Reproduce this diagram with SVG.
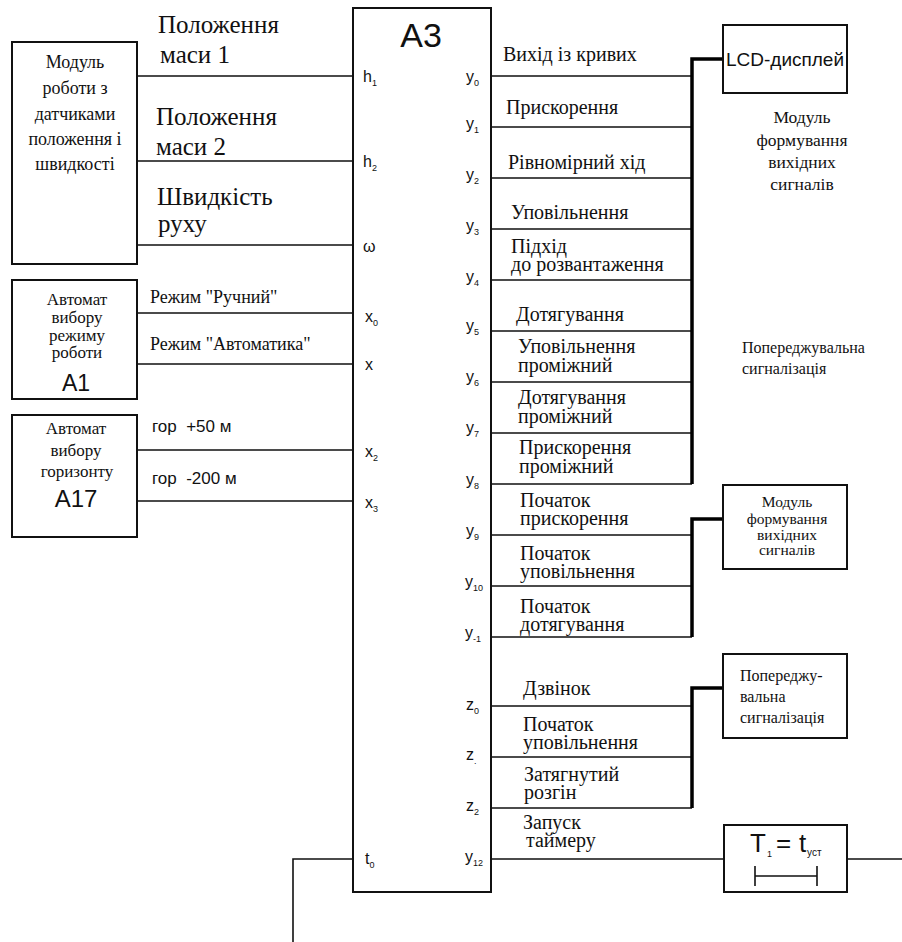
<svg xmlns="http://www.w3.org/2000/svg" width="902" height="942" viewBox="0 0 902 942">
<style>
.bg{fill:#fff}
.box{fill:none;stroke:#111;stroke-width:2}
.ln{fill:none;stroke:#111;stroke-width:1.6}
.bus{fill:none;stroke:#000;stroke-width:3.5}
.s{font-family:"Liberation Serif","DejaVu Serif","Times New Roman",serif;fill:#111}
.a{font-family:"Liberation Sans",Arial,sans-serif;fill:#111}
.c{text-anchor:middle}
.lbl{font-size:20px}
.big{font-size:25px}
.pin{font-size:16px}
.sub{font-size:9px}
</style>
<rect class="bg" x="0" y="0" width="902" height="942"/>

<g id="connectors">
  <path class="ln" d="M137,76H353M137,161H353M137,245H353M137,313H353M137,364H353M137,450H353M137,501H353"/>
  <path class="ln" d="M491,76H692M491,127H692M491,178H692M491,229H692M491,280H692M491,331H692M491,382H692M491,433H692M491,484H692"/>
  <path class="ln" d="M491,535H692M491,586H692M491,637H692"/>
  <path class="ln" d="M491,706H692M491,757H692M491,808H692"/>
  <path class="ln" d="M491,859H724M847,859H902M353,859H293V942"/>
  <path class="bus" d="M692,484V59H723"/>
  <path class="bus" d="M692,637V519H723"/>
  <path class="bus" d="M692,808V688H723"/>
</g>

<g id="sensors">
  <rect class="box" x="12" y="42" width="125" height="222"/>
  <text class="s c" font-size="18"><tspan x="75" y="68">Модуль</tspan><tspan x="75" y="94">роботи з</tspan><tspan x="75" y="120">датчиками</tspan><tspan x="75" y="145">положення і</tspan><tspan x="75" y="170">швидкості</tspan></text>
</g>
<g id="A1">
  <rect class="box" x="12" y="280" width="125" height="119"/>
  <text class="s c" font-size="17"><tspan x="77" y="305">Автомат</tspan><tspan x="77" y="323">вибору</tspan><tspan x="77" y="341">режиму</tspan><tspan x="77" y="358">роботи</tspan></text>
  <text class="a c" font-size="23" x="76" y="391">А1</text>
</g>
<g id="A17">
  <rect class="box" x="12" y="415" width="125" height="122"/>
  <text class="s c" font-size="17"><tspan x="76" y="434">Автомат</tspan><tspan x="76" y="456">вибору</tspan><tspan x="77" y="477">горизонту</tspan></text>
  <text class="a c" font-size="24" x="76" y="507">А17</text>
</g>

<g id="input-labels">
  <text class="s big"><tspan x="158" y="33">Положення</tspan><tspan x="160" y="63">маси 1</tspan></text>
  <text class="s big"><tspan x="156" y="125">Положення</tspan><tspan x="156" y="155">маси 2</tspan></text>
  <text class="s big"><tspan x="157" y="205">Швидкість</tspan><tspan x="158" y="232">руху</tspan></text>
  <text class="s" font-size="18" x="150" y="303">Режим "Ручний"</text>
  <text class="s" font-size="18" x="150" y="350">Режим "Автоматика"</text>
  <text class="a" font-size="17" x="152" y="432" xml:space="preserve">гор  +50 м</text>
  <text class="a" font-size="17" x="152" y="484" xml:space="preserve">гор  -200 м</text>
</g>

<g id="A3">
  <rect class="box" x="353" y="8" width="138" height="884"/>
  <text class="a c" font-size="34" x="421" y="47">A3</text>
  <g class="a pin">
    <text x="363" y="82">h<tspan class="sub" dy="4">1</tspan></text>
    <text x="363" y="167">h<tspan class="sub" dy="4">2</tspan></text>
    <text x="363" y="252">ω</text>
    <text x="365" y="322">x<tspan class="sub" dy="4">0</tspan></text>
    <text x="365" y="370">x</text>
    <text x="365" y="457">x<tspan class="sub" dy="4">2</tspan></text>
    <text x="365" y="508">x<tspan class="sub" dy="4">3</tspan></text>
    <text x="365" y="864">t<tspan class="sub" dy="4">0</tspan></text>
    <text x="466" y="82">y<tspan class="sub" dy="4">0</tspan></text>
    <text x="466" y="129">y<tspan class="sub" dy="4">1</tspan></text>
    <text x="466" y="180">y<tspan class="sub" dy="4">2</tspan></text>
    <text x="466" y="231">y<tspan class="sub" dy="4">3</tspan></text>
    <text x="466" y="282">y<tspan class="sub" dy="4">4</tspan></text>
    <text x="466" y="331">y<tspan class="sub" dy="4">5</tspan></text>
    <text x="466" y="382">y<tspan class="sub" dy="4">6</tspan></text>
    <text x="466" y="433">y<tspan class="sub" dy="4">7</tspan></text>
    <text x="466" y="485">y<tspan class="sub" dy="4">8</tspan></text>
    <text x="466" y="536">y<tspan class="sub" dy="4">9</tspan></text>
    <text x="465" y="587">y<tspan class="sub" dy="4">10</tspan></text>
    <text x="465" y="638">y<tspan class="sub" dy="4">-1</tspan></text>
    <text x="466" y="710">z<tspan class="sub" dy="4">0</tspan></text>
    <text x="466" y="760">z<tspan class="sub" dy="4">.</tspan></text>
    <text x="466" y="811">z<tspan class="sub" dy="4">2</tspan></text>
    <text x="465" y="862">y<tspan class="sub" dy="4">12</tspan></text>
  </g>
</g>

<g id="output-labels" class="s lbl">
  <text x="503" y="61">Вихід із кривих</text>
  <text x="506" y="114">Прискорення</text>
  <text x="508" y="169">Рівномірний хід</text>
  <text x="511" y="219">Уповільнення</text>
  <text><tspan x="511" y="253">Підхід</tspan><tspan x="511" y="271">до розвантаження</tspan></text>
  <text x="516" y="321">Дотягування</text>
  <text><tspan x="518" y="353">Уповільнення</tspan><tspan x="518" y="372">проміжний</tspan></text>
  <text><tspan x="518" y="404">Дотягування</tspan><tspan x="518" y="423">проміжний</tspan></text>
  <text><tspan x="519" y="454">Прискорення</tspan><tspan x="519" y="473">проміжний</tspan></text>
  <text><tspan x="520" y="507">Початок</tspan><tspan x="520" y="525">прискорення</tspan></text>
  <text><tspan x="520" y="560">Початок</tspan><tspan x="520" y="578">уповільнення</tspan></text>
  <text><tspan x="520" y="613">Початок</tspan><tspan x="520" y="631">дотягування</tspan></text>
  <text x="523" y="695">Дзвінок</text>
  <text><tspan x="523" y="731">Початок</tspan><tspan x="523" y="749">уповільнення</tspan></text>
  <text><tspan x="524" y="781">Затягнутий</tspan><tspan x="524" y="799">розгін</tspan></text>
  <text><tspan x="523" y="829">Запуск</tspan><tspan x="526" y="847">таймеру</tspan></text>
</g>

<g id="lcd">
  <rect class="box" x="723" y="25" width="124" height="68"/>
  <text class="a c" font-size="19" x="785" y="66">LCD-дисплей</text>
</g>
<g id="note-module">
  <text class="s c" font-size="17.5"><tspan x="802" y="123">Модуль</tspan><tspan x="802" y="146">формування</tspan><tspan x="802" y="168">вихідних</tspan><tspan x="802" y="190">сигналів</tspan></text>
</g>
<g id="note-warning">
  <text class="s" font-size="16"><tspan x="742" y="353">Попереджувальна</tspan><tspan x="742" y="374">сигналізація</tspan></text>
</g>
<g id="module-out">
  <rect class="box" x="723" y="485" width="124" height="84"/>
  <text class="s c" font-size="15.5"><tspan x="787" y="507">Модуль</tspan><tspan x="787" y="524">формування</tspan><tspan x="787" y="540">вихідних</tspan><tspan x="787" y="555">сигналів</tspan></text>
</g>
<g id="warning">
  <rect class="box" x="723" y="654" width="124" height="84"/>
  <text class="s" font-size="16"><tspan x="740" y="681">Попереджу-</tspan><tspan x="740" y="702">вальна</tspan><tspan x="740" y="723">сигналізація</tspan></text>
</g>
<g id="timer">
  <rect class="box" x="724" y="825" width="123" height="67"/>
  <text class="a" font-size="26"><tspan x="750" y="852">T</tspan><tspan x="767" y="857" font-size="9">1</tspan><tspan x="776" y="852">=</tspan><tspan x="799" y="852">t</tspan><tspan x="807" y="856" font-size="10">уст</tspan></text>
  <path class="ln" stroke-width="2" d="M755,876H817M755,866V886M817,866V886"/>
</g>
</svg>
